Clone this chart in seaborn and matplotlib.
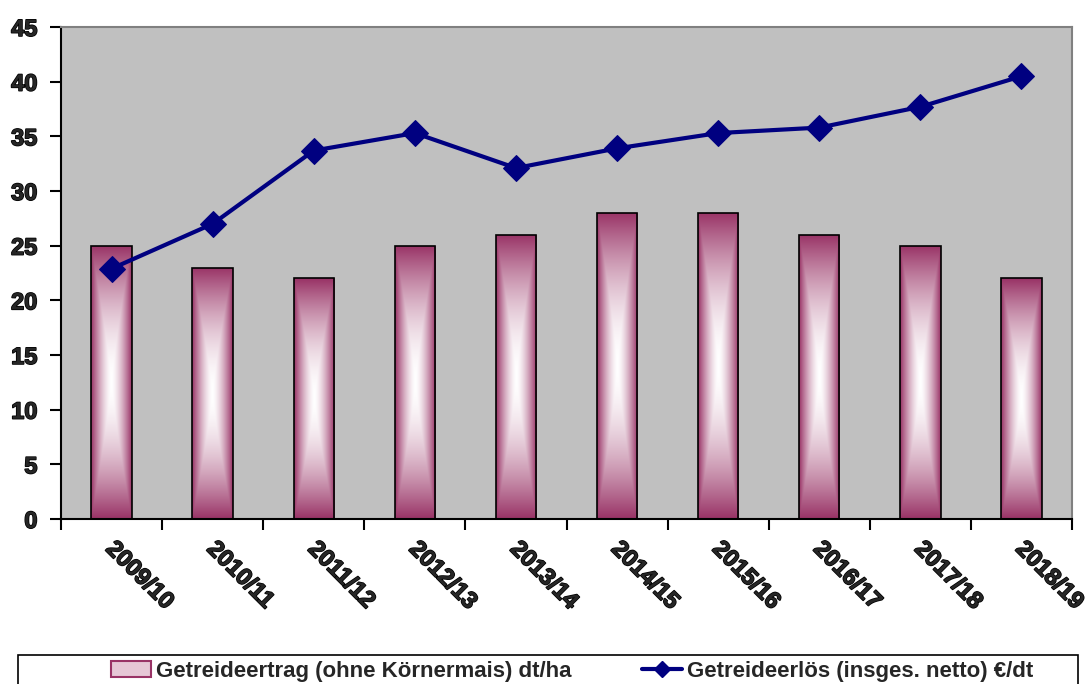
import matplotlib.pyplot as plt
import seaborn as sns
import numpy as np
from matplotlib.colors import to_rgb
from matplotlib.patches import Patch, Rectangle
from matplotlib.lines import Line2D
from matplotlib.transforms import ScaledTranslation
import matplotlib.patheffects as pe

# Daten
saisons = ['2009/10', '2010/11', '2011/12', '2012/13', '2013/14',
           '2014/15', '2015/16', '2016/17', '2017/18', '2018/19']
ertrag = [25, 23, 22, 25, 26, 28, 28, 26, 25, 22]
erloes = [22.9, 27.0, 33.7, 35.3, 32.1, 33.9, 35.3, 35.8, 37.7, 40.5]

lila = '#993366'
navy = '#000080'

sns.set_style("white")
plt.rcParams['font.family'] = ['Liberation Sans', 'DejaVu Sans']
plt.rcParams['font.weight'] = 'bold'

fig = plt.figure(figsize=(10.9, 6.84), dpi=100)
ax = fig.add_axes([0.056, 0.2412, 0.9275, 0.7193])
ax.set_facecolor('#c0c0c0')

# Balken
sns.barplot(x=saisons, y=ertrag, color=lila, width=0.4, ax=ax,
            edgecolor='black', linewidth=1.2, saturation=1)

# Farbverlauf in jedem Balken (weiß in der Mitte)
u = np.linspace(-1, 1, 80)
v = np.linspace(-1, 1, 200)
U, V = np.meshgrid(u, v)
t = np.maximum(np.abs(U), np.abs(V) ** 1.2)
t = np.clip(t, 0, 1) ** 1.5
c = np.array(to_rgb(lila))
img = (1 - t)[..., None] * np.ones(3) + t[..., None] * c
for p in ax.patches:
    x0, y0 = p.get_x(), p.get_y()
    w, h = p.get_width(), p.get_height()
    im = ax.imshow(img, extent=(x0, x0 + w, y0, y0 + h), aspect='auto',
                   zorder=p.get_zorder() + 0.1, interpolation='bilinear')
    im.set_clip_path(p)
    p.set_facecolor('none')
    p.set_zorder(p.get_zorder() + 0.2)

# Linie
sns.lineplot(x=np.arange(len(saisons)), y=erloes, ax=ax, color=navy,
             linewidth=3, marker='D', markersize=13, markeredgecolor=navy,
             zorder=5)

ax.set_xlim(-0.5, len(saisons) - 0.5)
ax.set_ylim(0, 45)
ax.set_yticks(range(0, 46, 5))
ax.set_xticks(range(len(saisons)))
ax.set_xticklabels(saisons, rotation=-45, ha='left', va='top',
                   rotation_mode='anchor', fontsize=17, fontweight='bold')
ax.set_xticks(np.arange(-0.5, len(saisons), 1), minor=True)
ax.tick_params(axis='x', which='major', length=0, pad=13)
ax.tick_params(axis='x', which='minor', length=8, width=1.5, color='black',
               direction='out', bottom=True)
ax.tick_params(axis='y', length=8, width=1.5, color='black', direction='out',
               left=True, labelsize=17, pad=9)

dick = [pe.withStroke(linewidth=1.1, foreground='black')]
verschieb = ScaledTranslation(6 / 100, 0, fig.dpi_scale_trans)
for lab in ax.get_xticklabels():
    lab.set_path_effects(dick)
    lab.set_transform(lab.get_transform() + verschieb)
for lab in ax.get_yticklabels():
    lab.set_fontweight('bold')
    lab.set_path_effects(dick)
ax.set_xlabel('')
ax.set_ylabel('')

for s in ['left', 'bottom']:
    ax.spines[s].set_color('black')
    ax.spines[s].set_linewidth(1.5)
for s in ['top', 'right']:
    ax.spines[s].set_color('#808080')
    ax.spines[s].set_linewidth(1.5)

# Legende
fig.add_artist(Rectangle((0.0165, -0.02), 0.9725, 0.0624,
                         transform=fig.transFigure, facecolor='white',
                         edgecolor='black', linewidth=1.2))
handles = [Patch(facecolor='#e6c7d6', edgecolor=lila, linewidth=1.5),
           Line2D([0], [0], color=navy, linewidth=3, marker='D',
                  markersize=8)]
labels = ['Getreideertrag (ohne Körnermais) dt/ha',
          'Getreideerlös (insges. netto) €/dt']
fig.legend(handles, labels, loc='center', bbox_to_anchor=(0.525, 0.019),
           ncol=2, frameon=False, columnspacing=3.2,
           handlelength=1.8, handletextpad=0.2,
           prop={'weight': 'bold', 'size': 16})

fig.savefig('out.png', dpi=100)
